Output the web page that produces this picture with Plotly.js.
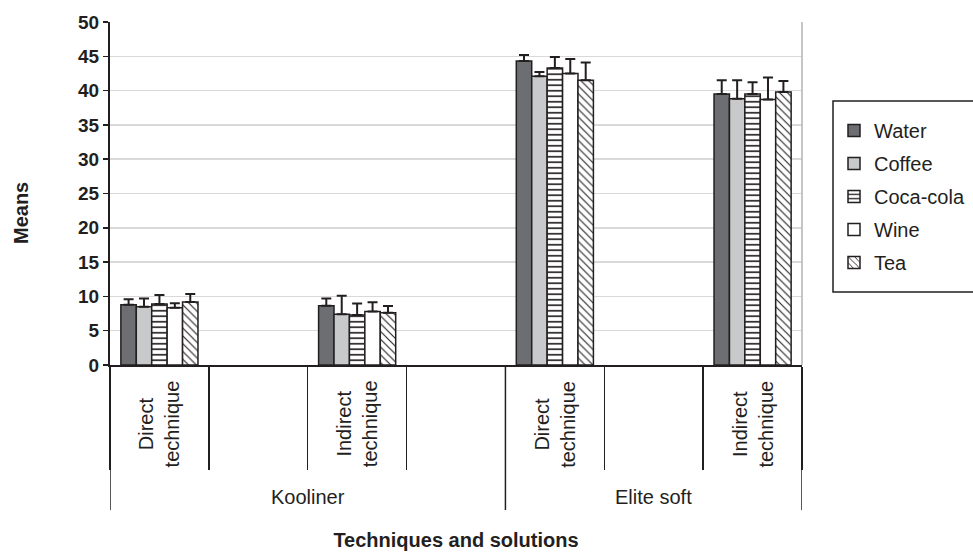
<!DOCTYPE html>
<html>
<head>
<meta charset="utf-8">
<script src="https://cdn.plot.ly/plotly-3.0.1.min.js"></script>
<style>
  html, body { margin: 0; padding: 0; background: #ffffff; }
  #chart { width: 973px; height: 552px; }
</style>
</head>
<body>
<div id="chart"></div>
<script>
// ---- data ----
const groups = ["Kooliner", "Elite soft"];
const techniques = ["Direct technique", "Indirect technique"];
const seriesNames = ["Water", "Coffee", "Coca-cola", "Wine", "Tea"];

// values for: Kooliner-Direct, Kooliner-Indirect, Elite soft-Direct, Elite soft-Indirect
const water    = [8.8, 8.65, 44.3, 39.5];
const coffee   = [8.5, 7.4, 42.1, 38.8];
const cocacola = [8.9, 7.3, 43.3, 39.5];
const wine     = [8.35, 7.8, 42.5, 38.7];
const tea      = [9.2, 7.6, 41.5, 39.8];

const waterErr    = [0.8, 1.05, 0.9, 2.0];
const coffeeErr   = [1.2, 2.7, 0.6, 2.7];
const cocacolaErr = [1.3, 1.65, 1.6, 1.7];
const wineErr     = [0.65, 1.35, 2.1, 3.2];
const teaErr      = [1.15, 1.0, 2.6, 1.6];

const yTitle = "Means";
const xTitle = "Techniques and solutions";

// ---- axis slots: each group has its techniques followed by an empty slot,
//      except the last group which ends with its last technique ----
const slots = [];
const slotData = []; // index into the value arrays, or null for an empty slot
let k = 0;
groups.forEach((g, gi) => {
  techniques.forEach((t, ti) => {
    slots.push(g + " | " + t);
    slotData.push(k++);
    const last = (gi === groups.length - 1 && ti === techniques.length - 1);
    if (!last) { slots.push(g + " | gap " + ti); slotData.push(null); }
  });
});

function expand(arr) { return slotData.map(i => i === null ? null : arr[i]); }

const INK = "#231f20";
const FONT = "Liberation Sans, Arial, sans-serif";
const styles = [
  { color: "#6d6e71" },
  { color: "#c8c9cb" },
  { color: "#ffffff", pattern: { shape: "-", fgcolor: INK, bgcolor: "#ffffff", size: 5.5, solidity: 0.3 } },
  { color: "#ffffff" },
  { color: "#ffffff", pattern: { shape: "\\", fgcolor: INK, bgcolor: "#ffffff", size: 5.5, solidity: 0.2 } }
];
const values = [water, coffee, cocacola, wine, tea];
const errors = [waterErr, coffeeErr, cocacolaErr, wineErr, teaErr];

const traces = seriesNames.map((name, i) => {
  const marker = { color: styles[i].color, line: { color: INK, width: 1.5 } };
  if (styles[i].pattern) marker.pattern = styles[i].pattern;
  return {
    type: "bar",
    name: name,
    x: slots,
    y: expand(values[i]),
    marker: marker,
    legendgroup: name,
    error_y: {
      type: "data",
      symmetric: false,
      array: expand(errors[i]),
      arrayminus: expand(errors[i].map(() => 0)),
      color: INK,
      thickness: 2,
      width: 5
    },
    hoverinfo: "name+y"
  };
});

// ---- geometry helpers (pixel layout of the reference) ----
const W = 973, H = 552;
const mL = 110, mR = 171, mT = 22, mB = 187;
const plotW = W - mL - mR, plotH = H - mT - mB;
const py = px => (H - mB - px) / plotH;      // pixel y -> paper y
const pxX = px => (px - mL) / plotW;         // pixel x -> paper x

const annotations = [];
// category labels
slots.forEach((s, i) => {
  if (slotData[i] === null) return;
  const t = s.split(" | ")[1];
  annotations.push({
    x: s, xref: "x", y: py(424), yref: "paper",
    text: t.replace(" ", "<br>"), textangle: -90,
    showarrow: false, xanchor: "center", yanchor: "middle", align: "center",
    font: { family: FONT, size: 20, color: INK }
  });
});
// group labels
const groupSpans = [];
groups.forEach((g) => {
  const idx = slots.map((s, i) => s.startsWith(g + " | ") ? i : -1).filter(i => i >= 0);
  groupSpans.push([idx[0] - 0.5, idx[idx.length - 1] + 0.5]);
  annotations.push({
    x: (idx[0] + idx[idx.length - 1]) / 2, xref: "x", y: py(497), yref: "paper",
    text: g, showarrow: false, xanchor: "center", yanchor: "middle",
    font: { family: FONT, size: 20, color: INK }
  });
});
// y axis title
annotations.push({
  x: pxX(21), xref: "paper", y: py(213), yref: "paper",
  text: yTitle, textangle: -90, showarrow: false,
  xanchor: "center", yanchor: "middle",
  font: { family: FONT, size: 20, weight: 700, color: INK }
});

const shapes = [];
// long group dividers
const bounds = [groupSpans[0][0]];
groupSpans.forEach(sp => bounds.push(sp[1]));
bounds.forEach(b => shapes.push({
  type: "line", xref: "x", yref: "paper", x0: b, x1: b, y0: 0, y1: py(510),
  line: { color: INK, width: 1.5 }
}));
// right border of plot area
shapes.push({ type: "line", xref: "paper", yref: "paper", x0: 1, x1: 1, y0: 0, y1: 1,
  line: { color: "#b3b3b3", width: 1.5 } });
// legend frame
shapes.push({ type: "rect", xref: "paper", yref: "paper",
  x0: pxX(833), x1: pxX(995), y0: py(292), y1: py(101),
  line: { color: INK, width: 1.5 }, fillcolor: "rgba(0,0,0,0)" });

const layout = {
  width: W, height: H,
  margin: { l: mL, r: mR, t: mT, b: mB, pad: 0, autoexpand: false },
  paper_bgcolor: "#ffffff", plot_bgcolor: "#ffffff",
  barmode: "group", bargap: 0.22, bargroupgap: 0,
  font: { family: FONT, color: INK },
  showlegend: true,
  legend: {
    x: pxX(834), y: py(111), xanchor: "left", yanchor: "top",
    bgcolor: "rgba(0,0,0,0)", borderwidth: 0,
    font: { family: FONT, size: 20, color: INK }, tracegroupgap: 4, traceorder: "grouped"
  },
  xaxis: {
    type: "category", categoryorder: "array", categoryarray: slots,
    range: [-0.5, slots.length - 0.5],
    showticklabels: false, ticks: "outside", tickson: "boundaries",
    ticklen: 103, tickwidth: 1.5, tickcolor: INK,
    showline: true, linecolor: INK, linewidth: 2,
    showgrid: false, zeroline: false, fixedrange: true,
    title: { text: xTitle, standoff: 167,
      font: { family: FONT, size: 20, weight: 700, color: INK } }
  },
  yaxis: {
    range: [0, 50], dtick: 5, tick0: 0,
    ticks: "outside", ticklen: 5, tickwidth: 1.5, tickcolor: INK,
    showline: true, linecolor: INK, linewidth: 2,
    showgrid: true, gridcolor: "#d9d9d9", gridwidth: 1.5,
    zeroline: false, fixedrange: true,
    tickfont: { family: FONT, size: 19, weight: 700, color: INK }
  },
  annotations: annotations,
  shapes: shapes
};

Plotly.newPlot("chart", traces, layout, { displayModeBar: false, staticPlot: true });
</script>
</body>
</html>
